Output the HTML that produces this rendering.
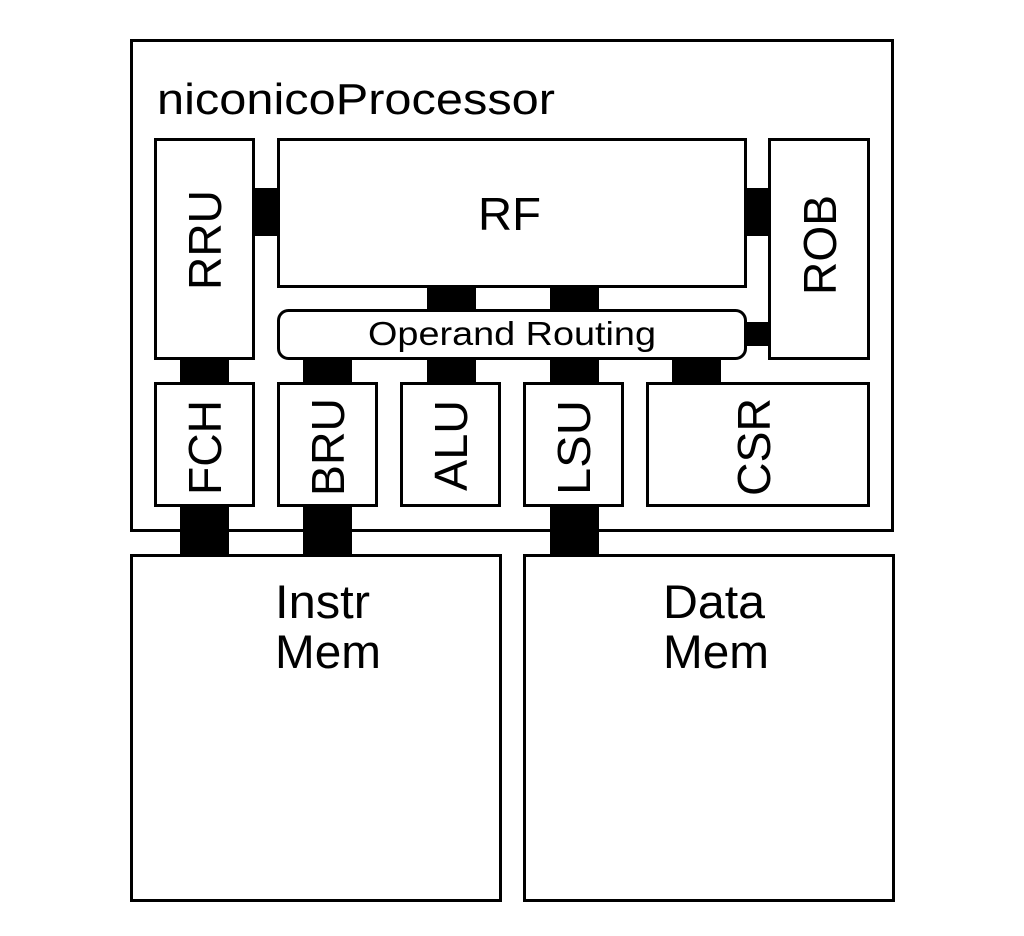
<!DOCTYPE html>
<html><head><meta charset="utf-8"><style>
html,body{margin:0;padding:0;background:#fff;width:1024px;height:936px;overflow:hidden}
svg text{font-family:"Liberation Sans",Arial,sans-serif;fill:#000}
</style></head><body>
<svg width="1024" height="936" viewBox="0 0 1024 936" xmlns="http://www.w3.org/2000/svg">
<g fill="#fff" stroke="#000" stroke-width="3">
<rect x="131.5" y="40.5" width="761" height="490"/>
<rect x="155.5" y="139.5" width="98" height="219"/>
<rect x="278.5" y="139.5" width="467" height="147"/>
<rect x="769.5" y="139.5" width="99" height="219"/>
<rect x="278.5" y="310.5" width="467" height="48" rx="10"/>
<rect x="155.5" y="383.5" width="98" height="122"/>
<rect x="278.5" y="383.5" width="98" height="122"/>
<rect x="401.5" y="383.5" width="98" height="122"/>
<rect x="524.5" y="383.5" width="98" height="122"/>
<rect x="647.5" y="383.5" width="221" height="122"/>
<rect x="131.5" y="555.5" width="369" height="345"/>
<rect x="524.5" y="555.5" width="369" height="345"/>
</g>
<g fill="#000">
<rect x="253" y="188" width="25" height="48"/>
<rect x="745" y="188" width="25" height="48"/>
<rect x="427" y="286" width="49" height="25"/>
<rect x="550" y="286" width="49" height="25"/>
<rect x="745" y="322" width="25" height="24"/>
<rect x="180" y="358" width="49" height="26"/>
<rect x="303" y="358" width="49" height="26"/>
<rect x="427" y="358" width="49" height="26"/>
<rect x="550" y="358" width="49" height="26"/>
<rect x="672" y="358" width="49" height="26"/>
<rect x="180" y="505" width="49" height="51"/>
<rect x="303" y="505" width="49" height="51"/>
<rect x="550" y="505" width="49" height="51"/>
</g>
<text x="157" y="114" font-size="44" textLength="398" lengthAdjust="spacingAndGlyphs">niconicoProcessor</text>
<text x="478" y="230" font-size="46" textLength="63" lengthAdjust="spacingAndGlyphs">RF</text>
<text x="368" y="345" font-size="33" textLength="288" lengthAdjust="spacingAndGlyphs">Operand Routing</text>
<text transform="translate(221,290) rotate(-90)" font-size="46" textLength="100" lengthAdjust="spacingAndGlyphs">RRU</text>
<text transform="translate(836,295) rotate(-90)" font-size="46" textLength="100" lengthAdjust="spacingAndGlyphs">ROB</text>
<text transform="translate(221,495) rotate(-90)" font-size="46" textLength="95" lengthAdjust="spacingAndGlyphs">FCH</text>
<text transform="translate(344,496) rotate(-90)" font-size="46" textLength="98" lengthAdjust="spacingAndGlyphs">BRU</text>
<text transform="translate(467,491) rotate(-90)" font-size="46" textLength="91" lengthAdjust="spacingAndGlyphs">ALU</text>
<text transform="translate(590,495) rotate(-90)" font-size="46" textLength="95" lengthAdjust="spacingAndGlyphs">LSU</text>
<text transform="translate(770,496) rotate(-90)" font-size="46" textLength="98" lengthAdjust="spacingAndGlyphs">CSR</text>
<text x="275" y="618" font-size="47" textLength="95" lengthAdjust="spacingAndGlyphs">Instr</text>
<text x="275" y="668" font-size="47" textLength="106" lengthAdjust="spacingAndGlyphs">Mem</text>
<text x="663" y="618" font-size="47" textLength="102" lengthAdjust="spacingAndGlyphs">Data</text>
<text x="663" y="668" font-size="47" textLength="106" lengthAdjust="spacingAndGlyphs">Mem</text>
</svg>
</body></html>
